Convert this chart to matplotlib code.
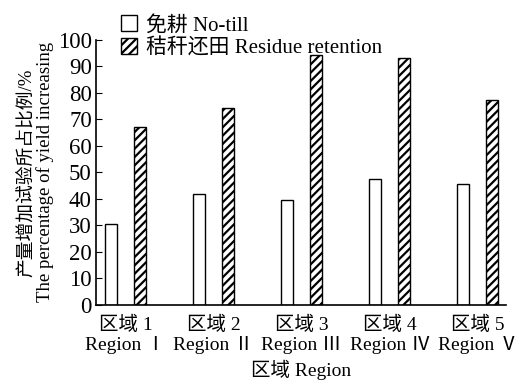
import numpy as np
import matplotlib
matplotlib.use("Agg")
import matplotlib.pyplot as plt

plt.rcParams['font.family'] = ['Liberation Serif', 'Noto Sans CJK SC', 'DejaVu Sans']
plt.rcParams['hatch.linewidth'] = 1.6

# data
regions = ['区域 1\nRegion Ⅰ', '区域 2\nRegion Ⅱ', '区域 3\nRegion Ⅲ',
           '区域 4\nRegion Ⅳ', '区域 5\nRegion Ⅴ']
no_till = [30.5, 42, 39.5, 47.5, 45.5]
residue = [67, 74.5, 94.5, 93, 77.5]

fig = plt.figure(figsize=(5.3, 3.84), dpi=100)
ax = fig.add_axes([0.181, 0.206, 0.774, 0.69])

x = np.arange(len(regions))
w = 0.136
off = 0.165
ax.bar(x - off, no_till, w, facecolor='white', edgecolor='black', lw=1.0,
       label='免耕 No-till')
ax.bar(x + off, residue, w, facecolor='white', edgecolor='black', lw=1.0,
       hatch='////', label='秸秆还田 Residue retention')

ax.set_xlim(-0.335, 4.32)
ax.set_ylim(0, 100)
ax.set_yticks(range(0, 101, 10))
ax.set_xticks(x)
ax.set_xticklabels(regions, fontsize=14, linespacing=1.15)
ax.tick_params(axis='y', direction='in', length=4, labelsize=16.5, pad=3)
ax.tick_params(axis='x', length=0, pad=8)
for s in ['top', 'right']:
    ax.spines[s].set_visible(False)
ax.spines['left'].set_linewidth(1.2)
ax.spines['bottom'].set_linewidth(1.2)

ax.set_xlabel('区域 Region', fontsize=14, labelpad=4)
ax.set_ylabel('产量增加试验所占比例/%\nThe percentage of yield increasing',
              fontsize=13.5, linespacing=1.0, labelpad=3)

ax.legend(loc='upper left', bbox_to_anchor=(0.04, 1.125), frameon=False,
          fontsize=15, handlelength=0.8, handleheight=0.8, handletextpad=0.4,
          labelspacing=0.15, borderaxespad=0)

fig.savefig('out.png', dpi=100)
